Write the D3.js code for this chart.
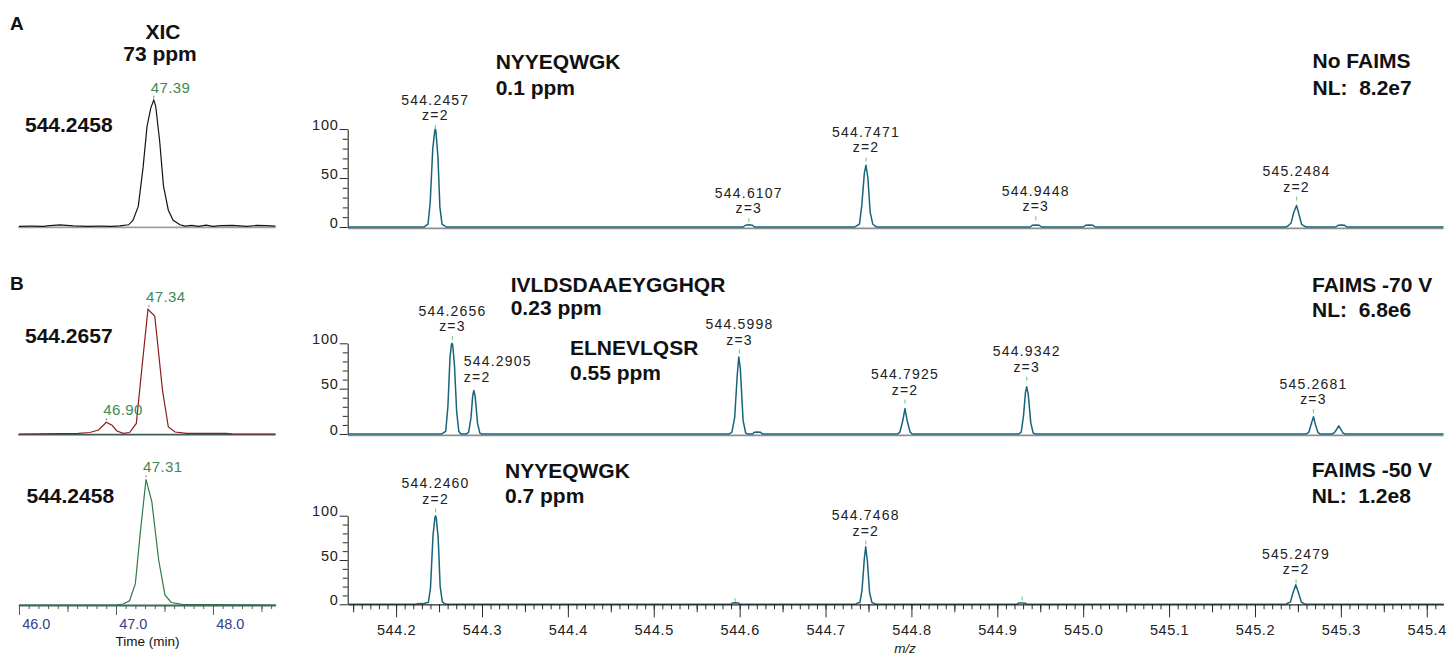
<!DOCTYPE html>
<html>
<head>
<meta charset="utf-8">
<script src="https://cdn.jsdelivr.net/npm/d3@7"></script>
<style>
  body { margin: 0; background: #fff; }
  svg { display: block; font-family: "Liberation Sans", Arial, Helvetica, sans-serif; }
</style>
</head>
<body>
<div id="chart"></div>
<script>
// ---- XIC traces: [time (min), relative intensity %]
const xicA = [[46.00,0.3],[46.12,0.4],[46.25,0.3],[46.32,0.8],[46.42,1.4],[46.56,0.6],[46.70,0.3],[46.84,0.4],[46.95,0.3],
  [47.04,0.6],[47.13,1.5],[47.175,5],[47.23,16],[47.28,47],[47.32,79],[47.36,94],[47.39,100],[47.41,95],[47.45,68],
  [47.49,32],[47.54,13],[47.59,5],[47.66,1.5],[47.71,0.5],[47.78,1.0],[47.85,0.3],[47.93,1.2],[48.00,0.3],[48.08,0.8],
  [48.20,1.0],[48.35,0.3],[48.45,1.0],[48.55,0.8],[48.645,0.5]];
const xicB1 = [[46.00,0],[46.61,0.5],[46.73,1.2],[46.82,3.2],[46.87,7],[46.90,9.4],[46.96,7],[47.01,2.4],[47.075,0.5],
  [47.14,1.2],[47.21,8.5],[47.265,51],[47.33,100],[47.40,94.6],[47.48,35],[47.54,5.6],[47.61,1.6],[47.73,0.5],
  [48.14,0.5],[48.21,0],[48.645,0]];
const xicB2 = [[46.00,0],[46.99,0],[47.075,0.8],[47.14,3.4],[47.20,17],[47.25,57],[47.31,100],[47.37,82],[47.44,36],
  [47.505,8],[47.57,2],[47.68,0.5],[48.645,0]];

// apex annotations of the XICs
const xicLabelsA = [{t: 47.39, v: 100, text: "47.39"}];
const xicLabelsB1 = [{t: 47.34, v: 100, text: "47.34"}, {t: 46.90, v: 9.4, text: "46.90"}];
const xicLabelsB2 = [{t: 47.31, v: 100, text: "47.31"}];

const timeTicks = [46.0, 47.0, 48.0];

// ---- mass spectra: [m/z, relative abundance %]
const specA = [[544.1440,0],[544.2327,0],[544.2347,1.5],[544.2372,3],[544.2397,25],[544.2427,80],[544.2450,98],[544.2457,100],
  [544.2464,97],[544.2487,72],[544.2510,20],[544.2535,3],[544.2560,1.5],[544.2582,0],
  [544.6040,0],[544.6068,1.8],[544.6107,2.2],[544.6146,1.8],[544.6175,0],
  [544.7340,0],[544.7365,1.5],[544.7395,3],[544.7422,22],[544.7452,55],[544.7471,63],[544.7493,50],[544.7520,15],
  [544.7550,3],[544.7575,1],[544.7600,0],
  [544.9380,0],[544.9410,1.8],[544.9448,2],[544.9485,1.8],[544.9515,0],
  [545.0000,0],[545.0030,1.8],[545.0070,2],[545.0110,1.8],[545.0140,0],
  [545.2360,0],[545.2390,1.5],[545.2420,4],[545.2452,15],[545.2484,22],[545.2512,13],[545.2542,3],[545.2570,1],[545.2600,0],
  [545.2940,0],[545.2970,1.8],[545.3005,2],[545.3040,1.8],[545.3070,0],
  [545.4195,0]];
const specB1 = [[544.1440,0],[544.2530,0],[544.2552,1.5],[544.2578,3],[544.2603,30],[544.2628,85],[544.2645,99],[544.2652,100],
  [544.2660,97],[544.2680,75],[544.2705,25],[544.2730,3],[544.2755,0],
  [544.2820,0],[544.2845,2],[544.2872,18],[544.2892,42],[544.2905,48],[544.2920,42],[544.2948,12],[544.2975,1],[544.3000,0],
  [544.5880,0],[544.5910,2],[544.5942,18],[544.5972,65],[544.5990,85],[544.6008,72],[544.6040,15],[544.6070,1],[544.6095,0],
  [544.6150,0],[544.6170,2],[544.6210,2.2],[544.6245,1.8],[544.6265,0],
  [544.7840,0],[544.7865,2],[544.7898,14],[544.7925,28],[544.7952,14],[544.7985,2],[544.8010,0],
  [544.9250,0],[544.9278,2],[544.9305,20],[544.9328,46],[544.9342,52],[544.9360,44],[544.9390,12],[544.9418,1],[544.9440,0],
  [545.2600,0],[545.2627,2],[545.2655,11],[545.2681,19],[545.2705,10],[545.2735,1.5],[545.2760,0],
  [545.2900,0],[545.2925,1.5],[545.2950,5],[545.2975,9],[545.3000,5],[545.3025,1],[545.3050,0],
  [545.4195,0]];
const specB2 = [[544.1440,0],[544.2235,0],[544.2250,0.8],[544.2268,0.6],[544.2290,0.8],[544.2320,0.6],[544.2345,1.5],[544.2375,2],
  [544.2400,18],[544.2430,78],[544.2452,98],[544.2460,100],[544.2468,97],[544.2490,75],[544.2513,20],[544.2538,3],[544.2560,1],[544.2585,0],
  [544.5895,0],[544.5920,1.5],[544.5950,1.8],[544.5985,1.5],[544.6005,0],
  [544.7350,0],[544.7375,1.5],[544.7400,2],[544.7425,16],[544.7452,52],[544.7468,65],[544.7488,48],[544.7513,13],
  [544.7540,2],[544.7565,1],[544.7590,0],
  [544.9225,0],[544.9250,1.5],[544.9290,1.6],[544.9325,1.3],[544.9350,0],
  [545.2360,0],[545.2385,1.5],[545.2412,2.5],[545.2443,13],[545.2475,22],[545.2510,12],[545.2540,2.5],[545.2565,1],[545.2590,0],
  [545.4195,0]];

// centroid labels: m/z, label level (%), texts
const peaksA = [
  {mz: 544.2457, level: 104, mass: "544.2457", z: "z=2"},
  {mz: 544.6107, level: 9, mass: "544.6107", z: "z=3"},
  {mz: 544.7471, level: 71, mass: "544.7471", z: "z=2"},
  {mz: 544.9448, level: 11, mass: "544.9448", z: "z=3"},
  {mz: 545.2484, level: 31, mass: "545.2484", z: "z=2"}
];
const peaksB1 = [
  {mz: 544.2656, level: 108, mass: "544.2656", z: "z=3"},
  {mz: 544.2905, level: 52, mass: "544.2905", z: "z=2"},
  {mz: 544.5998, level: 93, mass: "544.5998", z: "z=3"},
  {mz: 544.7925, level: 38, mass: "544.7925", z: "z=2"},
  {mz: 544.9342, level: 63, mass: "544.9342", z: "z=3"},
  {mz: 545.2681, level: 27.5, mass: "545.2681", z: "z=3"}
];
const peaksB2 = [
  {mz: 544.2460, level: 108, mass: "544.2460", z: "z=2"},
  {mz: 544.5946, level: 7, mass: "", z: ""},
  {mz: 544.7468, level: 72, mass: "544.7468", z: "z=2"},
  {mz: 544.9290, level: 8.7, mass: "", z: ""},
  {mz: 545.2479, level: 28, mass: "545.2479", z: "z=2"}
];

const mzTicks = [544.2, 544.3, 544.4, 544.5, 544.6, 544.7, 544.8, 544.9, 545.0, 545.1, 545.2, 545.3, 545.4];
const abundanceTicks = [0, 50, 100];

// ---- drawing
const FONT = '"Liberation Sans", Arial, Helvetica, sans-serif';
const svg = d3.select("#chart").append("svg").attr("width", 1452).attr("height", 658);

const tx = d3.scaleLinear().domain([45.993, 48.646]).range([18.3, 275.6]);
const mx = d3.scaleLinear().domain([544.144, 545.4195]).range([348, 1443.5]);

function label(x, y, s, size, opts = {}) {
  return svg.append("text")
    .attr("x", x).attr("y", y)
    .attr("font-size", size)
    .attr("font-weight", opts.bold ? "bold" : null)
    .attr("font-style", opts.italic ? "italic" : null)
    .attr("text-anchor", opts.anchor || "start")
    .attr("letter-spacing", opts.spacing || null)
    .attr("fill", opts.color || "#111")
    .style("white-space", "pre")
    .text(s);
}

const panels = [
  {xic: xicA, xicLabels: xicLabelsA, color: "#141414", zeroColor: "#9aa0a0", xicZero: 226.7, xicTop: 100,
   spec: specA, peaks: peaksA, specZero: 227, specTop: 129},
  {xic: xicB1, xicLabels: xicLabelsB1, color: "#8e1c1c", zeroColor: "#3e5c5c", xicZero: 434, xicTop: 309.3,
   spec: specB1, peaks: peaksB1, specZero: 434, specTop: 343.3},
  {xic: xicB2, xicLabels: xicLabelsB2, color: "#2f7b47", zeroColor: null, xicZero: 605, xicTop: 479.3,
   spec: specB2, peaks: peaksB2, specZero: 604.3, specTop: 515.7}
];

const leftAnchored = new Set(["544.2905"]);

panels.forEach(p => {
  const yx = d3.scaleLinear().domain([0, 100]).range([p.xicZero, p.xicTop]);
  const ys = d3.scaleLinear().domain([0, 100]).range([p.specZero, p.specTop]);

  // XIC
  if (p.zeroColor) {
    svg.append("line")
      .attr("x1", tx.range()[0]).attr("x2", tx.range()[1])
      .attr("y1", yx(0) + 0.6).attr("y2", yx(0) + 0.6)
      .attr("stroke", p.zeroColor).attr("stroke-width", 1.8);
  }
  svg.append("path").datum(p.xic)
    .attr("fill", "none").attr("stroke", p.color).attr("stroke-width", 1.2)
    .attr("d", d3.line().x(d => tx(d[0])).y(d => yx(d[1])));

  p.xicLabels.forEach(l => {
    svg.append("line")
      .attr("x1", tx(l.t)).attr("x2", tx(l.t))
      .attr("y1", yx(l.v) - 4).attr("y2", yx(l.v) - 2)
      .attr("stroke", "#555").attr("stroke-width", 0.8);
    label(tx(l.t) - 3, yx(l.v) - 7, l.text, 15, {color: "#3d8a55", spacing: 0.4});
  });

  // spectrum
  if (p !== panels[2]) {
    svg.append("line")
      .attr("x1", mx.range()[0]).attr("x2", mx.range()[1])
      .attr("y1", ys(0) + 1.4).attr("y2", ys(0) + 1.4)
      .attr("stroke", "#8e8e8e").attr("stroke-width", 1.6);
  }

  const gy = svg.append("g").attr("transform", "translate(347.7,0)").attr("color", "#2a2a2a");
  gy.call(d3.axisLeft(ys).tickValues([10, 20, 30, 40, 60, 70, 80, 90]).tickSize(5).tickSizeOuter(0).tickFormat(""));
  gy.call(g => g.select(".domain").remove());
  const gy2 = svg.append("g").attr("transform", "translate(347.7,0)").attr("color", "#2a2a2a");
  gy2.call(d3.axisLeft(ys).tickValues(abundanceTicks).tickSize(8).tickSizeOuter(0).tickPadding(1).tickFormat(d3.format("d")));
  gy2.attr("font-family", FONT).attr("font-size", 14.5);
  gy2.selectAll("text").attr("dy", "0").attr("fill", "#222").attr("letter-spacing", 0.8);
  gy2.select(".domain").attr("stroke-width", 1.1);

  svg.append("path").datum(p.spec)
    .attr("fill", "none").attr("stroke", "#17657d").attr("stroke-width", 1.5)
    .attr("stroke-linejoin", "round")
    .attr("d", d3.line().x(d => mx(d[0])).y(d => ys(d[1])));

  p.peaks.forEach(pk => {
    const x = mx(pk.mz), y = ys(pk.level);
    if (pk.mass !== "544.2905") {
      svg.append("line").attr("x1", x).attr("x2", x).attr("y1", y).attr("y2", y + 4)
        .attr("stroke", "#7fd37f").attr("stroke-width", 1.2);
    }
    if (!pk.mass) return;
    const left = leftAnchored.has(pk.mass);
    const ax = left ? x - 10 : x;
    const anchor = left ? "start" : "middle";
    label(ax, y - 5, pk.z, 14, {anchor, spacing: 1.2, color: "#222"});
    label(ax, y - 20.5, pk.mass, 14, {anchor, spacing: 1.2, color: "#222"});
  });
});

// m/z axis
const mzMinor = d3.range(15, 142).map(i => 544 + i / 100);
const mzMid = d3.range(0, 13).map(i => 544.15 + i / 10);
const gx = svg.append("g").attr("transform", "translate(0,604.3)").attr("color", "#2a2a2a");
gx.call(d3.axisBottom(mx).tickValues(mzMinor).tickSize(5).tickSizeOuter(0).tickFormat(""));
gx.select(".domain").attr("stroke-width", 1.3);
const gx2 = svg.append("g").attr("transform", "translate(0,604.3)").attr("color", "#2a2a2a");
gx2.call(d3.axisBottom(mx).tickValues(mzMid).tickSize(8).tickSizeOuter(0).tickFormat(""));
gx2.select(".domain").remove();
const gx3 = svg.append("g").attr("transform", "translate(0,604.3)").attr("color", "#2a2a2a");
gx3.call(d3.axisBottom(mx).tickValues(mzTicks).tickSize(13).tickSizeOuter(0).tickPadding(7).tickFormat(d3.format(".1f")));
gx3.select(".domain").remove();
gx3.attr("font-family", FONT).attr("font-size", 14.5);
gx3.selectAll("text").attr("fill", "#222").attr("letter-spacing", 0.6);
label(905, 653, "m/z", 13.5, {italic: true, anchor: "middle", color: "#222"});

// time axis
const tMinor = d3.range(0, 27).map(i => 46 + i / 10);
const gt = svg.append("g").attr("transform", "translate(0,605)").attr("color", "#44675b");
gt.call(d3.axisBottom(tx).tickValues(tMinor).tickSize(4).tickSizeOuter(0).tickFormat(""));
gt.select(".domain").attr("stroke-width", 1.8);
const gt2 = svg.append("g").attr("transform", "translate(0,605)").attr("color", "#44675b");
gt2.call(d3.axisBottom(tx).tickValues([46.5, 47.5, 48.5]).tickSize(7).tickSizeOuter(0).tickFormat(""));
gt2.select(".domain").remove();
const gt3 = svg.append("g").attr("transform", "translate(0,605)").attr("color", "#44675b");
gt3.call(d3.axisBottom(tx).tickValues(timeTicks).tickSize(10).tickSizeOuter(0).tickFormat(d3.format(".1f")));
gt3.select(".domain").remove();
gt3.attr("font-family", FONT).attr("font-size", 14.5);
gt3.selectAll("text").attr("text-anchor", "start").attr("x", 2.7).attr("y", 24).attr("dy", "0").attr("fill", "#3c3c8c");
label(147.5, 646, "Time (min)", 13.5, {anchor: "middle", color: "#111"});

// bold annotations
label(10, 30, "A", 19, {bold: true});
label(10, 290, "B", 19, {bold: true});
label(163, 39, "XIC", 21, {bold: true, anchor: "middle"});
label(160, 61, "73 ppm", 21, {bold: true, anchor: "middle"});
label(25, 131.5, "544.2458", 21, {bold: true});
label(25, 343, "544.2657", 21, {bold: true});
label(26.5, 503, "544.2458", 21, {bold: true});

label(495.7, 69, "NYYEQWGK", 21, {bold: true});
label(495.7, 95, "0.1 ppm", 21, {bold: true});
label(510.7, 291.5, "IVLDSDAAEYGGHQR", 21, {bold: true});
label(510.7, 315, "0.23 ppm", 21, {bold: true});
label(570, 355, "ELNEVLQSR", 21, {bold: true});
label(570, 379.5, "0.55 ppm", 21, {bold: true});
label(505, 478.3, "NYYEQWGK", 21, {bold: true});
label(505, 503.3, "0.7 ppm", 21, {bold: true});

label(1312.5, 68, "No FAIMS", 21, {bold: true});
label(1312.5, 95, "NL:  8.2e7", 21, {bold: true});
label(1312, 291.5, "FAIMS -70 V", 21, {bold: true});
label(1312, 316.7, "NL:  6.8e6", 21, {bold: true});
label(1311.7, 477, "FAIMS -50 V", 21, {bold: true});
label(1311.7, 503, "NL:  1.2e8", 21, {bold: true});
</script>
</body>
</html>
